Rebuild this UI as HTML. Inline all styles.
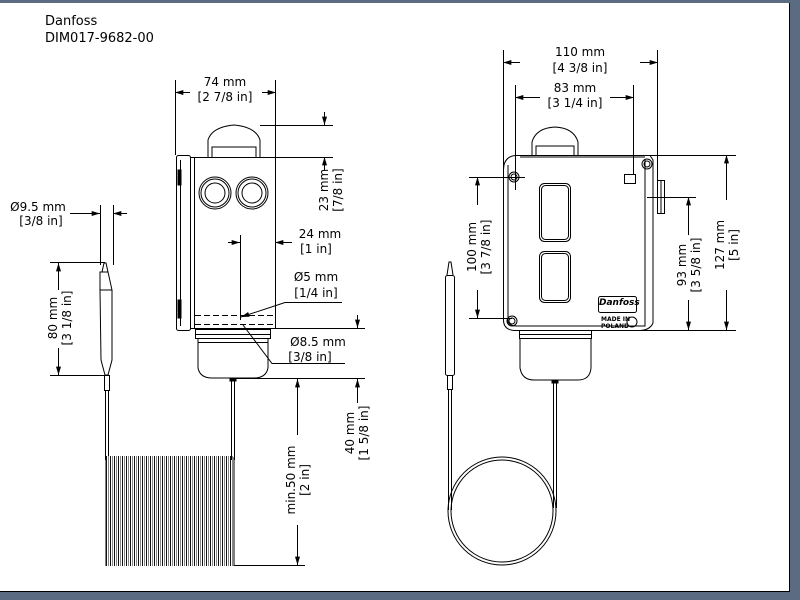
<!DOCTYPE html>
<html><head><meta charset="utf-8"><style>
html,body{margin:0;padding:0;background:#fff;}
svg{display:block;}
text{font-family:"DejaVu Sans","Liberation Sans",sans-serif;font-size:12px;fill:#000;}
</style></head><body>
<svg width="800" height="600" viewBox="0 0 800 600" xmlns="http://www.w3.org/2000/svg">
<defs>
<marker id="a" viewBox="0 0 10 6" refX="10" refY="3" markerWidth="9" markerHeight="5" orient="auto-start-reverse" markerUnits="userSpaceOnUse"><path d="M0,0 L10,3 L0,6z" fill="#000"/></marker>
<pattern id="coil" width="4" height="110" patternUnits="userSpaceOnUse" x="106" y="456"><rect x="0" y="0" width="1" height="110" fill="#111"/><rect x="2" y="0" width="1" height="110" fill="#888"/></pattern>
</defs>
<rect x="0" y="0" width="800" height="3" fill="#5b6b82"/>
<rect x="790" y="0" width="10" height="600" fill="#5b6b82"/>
<rect x="0" y="592" width="800" height="8" fill="#5b6b82"/>
<line x1="789.5" y1="3" x2="789.5" y2="592" stroke="#000"/>
<line x1="0" y1="591.5" x2="790" y2="591.5" stroke="#000"/>

<text x="45" y="25" style="font-size:13px">Danfoss</text>
<text x="45" y="42" style="font-size:13px">DIM017-9682-00</text>

<g fill="none" stroke="#000" stroke-width="1">
<!-- LEFT VIEW -->
<path d="M208,157 L208,140 Q212,127 234,125 Q256,127 260,140 L260,157"/>
<path d="M212,157 L212,147 L256,147 L256,157"/>
<rect x="176.5" y="155.5" width="14" height="175" rx="2"/>
<line x1="180.5" y1="160" x2="180.5" y2="326"/>
<rect x="178" y="170" width="3" height="15" fill="#000"/>
<rect x="178" y="300" width="3" height="18" fill="#000"/>
<rect x="190.5" y="157.5" width="85" height="171"/>
<line x1="194.5" y1="158" x2="194.5" y2="328"/>
<circle cx="215" cy="193" r="16"/><circle cx="215" cy="193" r="14"/><circle cx="215" cy="193" r="10"/>
<circle cx="252" cy="193" r="16"/><circle cx="252" cy="193" r="14"/><circle cx="252" cy="193" r="10"/>
<line x1="195" y1="315.5" x2="275" y2="315.5" stroke-dasharray="6,3"/>
<line x1="195" y1="324.5" x2="275" y2="324.5" stroke-dasharray="6,3"/>
<rect x="195.5" y="329.5" width="75" height="9"/>
<line x1="196" y1="334.5" x2="270" y2="334.5"/>
<path d="M198,339 L198,368 Q200,378 212,378 L254,378 Q266,378 268,368 L268,339"/>
<line x1="198" y1="342.5" x2="268" y2="342.5"/>
<rect x="230" y="378" width="6" height="3" fill="#000"/>
<line x1="231.5" y1="380" x2="231.5" y2="460"/><line x1="234.5" y1="380" x2="234.5" y2="460"/>
<!-- left bulb -->
<path d="M102,272 L104,263 L106,263 L108,272"/>
<path d="M100,272 L108,272 L112,290 L112,360 L108,375 L105,375 L101,360 L100,290 Z"/>
<line x1="100" y1="290" x2="112" y2="290"/>
<rect x="104.5" y="375.5" width="5" height="15"/>
<line x1="105.5" y1="390" x2="105.5" y2="460"/><line x1="108.5" y1="390" x2="108.5" y2="460"/>
<path d="M106,457 L106,566 M234,457 L234,566" />
</g>
<rect x="106" y="456" width="128" height="110" fill="url(#coil)"/>

<g fill="none" stroke="#000" stroke-width="1">
<!-- left dims -->
<line x1="175.5" y1="80" x2="175.5" y2="155"/><line x1="275.5" y1="80" x2="275.5" y2="157"/>
<line x1="175" y1="92.5" x2="190" y2="92.5" marker-start="url(#a)"/>
<line x1="262" y1="92.5" x2="276" y2="92.5" marker-end="url(#a)"/>
<line x1="260" y1="125.5" x2="333" y2="125.5"/><line x1="275" y1="157.5" x2="333" y2="157.5"/>
<line x1="324.5" y1="112" x2="324.5" y2="125" marker-end="url(#a)"/>
<line x1="324.5" y1="170" x2="324.5" y2="157" marker-end="url(#a)"/>
<line x1="240.5" y1="235" x2="240.5" y2="320"/>
<line x1="228" y1="242.5" x2="240" y2="242.5" marker-end="url(#a)"/>
<line x1="290" y1="242.5" x2="275" y2="242.5" marker-end="url(#a)"/>
<line x1="275" y1="242.5" x2="292" y2="242.5"/>
<path d="M342,302.5 L285,302.5 L241,317" marker-end="url(#a)"/>
<path d="M243,325 L272,363.5 L345,363.5"/>
<line x1="270" y1="328.5" x2="365" y2="328.5"/><line x1="232" y1="378.5" x2="365" y2="378.5"/>
<line x1="357.5" y1="315" x2="357.5" y2="328" marker-end="url(#a)"/>
<line x1="357.5" y1="392" x2="357.5" y2="379" marker-end="url(#a)"/>
<line x1="357.5" y1="392" x2="357.5" y2="403"/>
<line x1="297.5" y1="379" x2="297.5" y2="435" marker-start="url(#a)"/>
<line x1="297.5" y1="525" x2="297.5" y2="565" marker-end="url(#a)"/>
<line x1="234" y1="565.5" x2="305" y2="565.5"/>
<line x1="100.5" y1="205" x2="100.5" y2="265"/><line x1="113.5" y1="205" x2="113.5" y2="265"/>
<line x1="70" y1="213.5" x2="100" y2="213.5" marker-end="url(#a)"/>
<line x1="127" y1="213.5" x2="113" y2="213.5" marker-end="url(#a)"/>
<line x1="50" y1="262.5" x2="105" y2="262.5"/><line x1="50" y1="375.5" x2="105" y2="375.5"/>
<line x1="58.5" y1="290" x2="58.5" y2="263" marker-end="url(#a)"/>
<line x1="58.5" y1="348" x2="58.5" y2="375" marker-end="url(#a)"/>

<!-- RIGHT VIEW -->
<path d="M532,155 L532,142 Q536,128 555,127 Q574,128 578,142 L578,155"/>
<path d="M536,155 L536,146 L574,146 L574,155"/>
<path d="M503.5,170 Q503.5,157 515,155.5 L650,155.5 L653,160 L653,323 Q650,330 640,330.5 L515,330.5 Q503.5,330 503.5,320 Z"/>
<path d="M508,165 L508,322 Q510,326 516,326 L645,326 L645,160"/>
<line x1="520" y1="157" x2="645" y2="157"/>
<rect x="539.5" y="183.5" width="31" height="58" rx="5"/><rect x="541.5" y="185.5" width="27" height="54" rx="4"/>
<rect x="539.5" y="251.5" width="31" height="51" rx="5"/><rect x="541.5" y="253.5" width="27" height="47" rx="4"/>
<circle cx="514" cy="177" r="5"/><circle cx="514" cy="177" r="3"/>
<circle cx="647" cy="164" r="5"/><circle cx="647" cy="164" r="3"/>
<circle cx="512" cy="321" r="5"/><circle cx="512" cy="321" r="3"/>
<circle cx="632" cy="322" r="5"/>
<rect x="624.5" y="174.5" width="11" height="9"/>
<rect x="657.5" y="180.5" width="7" height="33"/><line x1="661" y1="181" x2="661" y2="213"/>
<rect x="598.5" y="296.5" width="38" height="16" rx="2"/>
<rect x="519.5" y="330.5" width="72" height="8"/><line x1="520" y1="334.5" x2="591" y2="334.5"/>
<path d="M520,339 L520,368 Q522,380 534,380 L578,380 Q590,380 591,368 L591,339"/>
<rect x="552" y="380" width="6" height="3" fill="#000"/>
<line x1="553.5" y1="382" x2="553.5" y2="508"/><line x1="556.5" y1="382" x2="556.5" y2="508"/>
<circle cx="502" cy="511" r="54"/><circle cx="502" cy="511" r="51"/>
<!-- right bulb -->
<path d="M447,275 L449,262 L451,262 L453,275"/>
<rect x="445.5" y="275.5" width="9" height="100" rx="2"/>
<rect x="447.5" y="375.5" width="5" height="14"/>
<line x1="448.5" y1="390" x2="448.5" y2="510"/><line x1="451.5" y1="390" x2="451.5" y2="510"/>
<!-- right dims -->
<line x1="503.5" y1="50" x2="503.5" y2="170"/><line x1="657.5" y1="50" x2="657.5" y2="180"/>
<line x1="503" y1="62.5" x2="520" y2="62.5" marker-start="url(#a)"/>
<line x1="640" y1="62.5" x2="658" y2="62.5" marker-end="url(#a)"/>
<line x1="515.5" y1="85" x2="515.5" y2="190"/><line x1="633.5" y1="85" x2="633.5" y2="175"/>
<line x1="515" y1="97.5" x2="540" y2="97.5" marker-start="url(#a)"/>
<line x1="610" y1="97.5" x2="634" y2="97.5" marker-end="url(#a)"/>
<line x1="469" y1="177.5" x2="525" y2="177.5"/><line x1="469" y1="318.5" x2="512" y2="318.5"/>
<line x1="477.5" y1="205" x2="477.5" y2="177" marker-end="url(#a)"/>
<line x1="477.5" y1="290" x2="477.5" y2="318" marker-end="url(#a)"/>
<line x1="647" y1="197.5" x2="696" y2="197.5"/>
<line x1="688.5" y1="235" x2="688.5" y2="197" marker-end="url(#a)"/>
<line x1="688.5" y1="300" x2="688.5" y2="330" marker-end="url(#a)"/>
<line x1="650" y1="155.5" x2="736" y2="155.5"/><line x1="595" y1="330.5" x2="736" y2="330.5"/>
<line x1="726.5" y1="200" x2="726.5" y2="155" marker-end="url(#a)"/>
<line x1="726.5" y1="290" x2="726.5" y2="330" marker-end="url(#a)"/>
</g>

<text x="599" y="305" style="font-size:9px;font-style:italic;font-weight:bold">Danfoss</text>
<text x="601" y="321" style="font-size:6px;font-weight:bold">MADE IN</text>
<text x="601" y="328" style="font-size:6px;font-weight:bold">POLAND</text>

<g text-anchor="middle">
<text x="225" y="86">74 mm</text><text x="225" y="101">[2 7/8 in]</text>
<text x="320" y="238">24 mm</text><text x="316" y="253">[1 in]</text>
<text x="316" y="281">Ø5 mm</text><text x="316" y="297">[1/4 in]</text>
<text x="318" y="346">Ø8.5 mm</text><text x="310" y="361">[3/8 in]</text>
<text x="38" y="211">Ø9.5 mm</text><text x="41" y="225">[3/8 in]</text>
<text x="580" y="56">110 mm</text><text x="580" y="72">[4 3/8 in]</text>
<text x="575" y="92">83 mm</text><text x="575" y="107">[3 1/4 in]</text>
<g transform="translate(328,190) rotate(-90)"><text x="0" y="0">23 mm</text><text x="0" y="14">[7/8 in]</text></g>
<g transform="translate(354,433) rotate(-90)"><text x="0" y="0">40 mm</text><text x="0" y="14">[1 5/8 in]</text></g>
<g transform="translate(295,480) rotate(-90)"><text x="0" y="0">min.50 mm</text><text x="0" y="14">[2 in]</text></g>
<g transform="translate(57,318) rotate(-90)"><text x="0" y="0">80 mm</text><text x="0" y="14">[3 1/8 in]</text></g>
<g transform="translate(476,247) rotate(-90)"><text x="0" y="0">100 mm</text><text x="0" y="14">[3 7/8 in]</text></g>
<g transform="translate(686,265) rotate(-90)"><text x="0" y="0">93 mm</text><text x="0" y="14">[3 5/8 in]</text></g>
<g transform="translate(724,245) rotate(-90)"><text x="0" y="0">127 mm</text><text x="0" y="14">[5 in]</text></g>
</g>
</svg>
</body></html>
